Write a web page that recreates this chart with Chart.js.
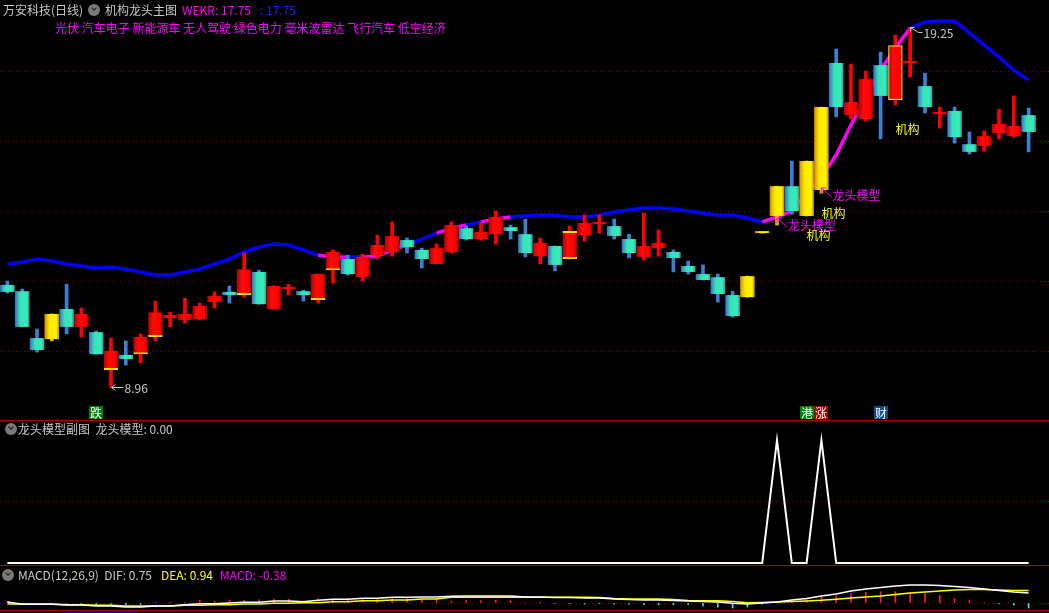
<!DOCTYPE html>
<html lang="zh">
<head>
  <meta charset="UTF-8" />
  <title>万安科技(日线) 机构龙头主图</title>
  <script src="https://cdn.jsdelivr.net/npm/chart.js"></script>
  <style>
    body {
      margin: 0;
      width: 1049px;
      height: 613px;
      overflow: hidden;
      position: relative;
      background: #000;
      color: #c8c8c8;
      font-family: "Noto Sans CJK SC", "Noto Sans", sans-serif;
      font-size: 12px;
    }
    .pane { position: absolute; left: 0; }
    .pane canvas { display: block; }
    .txt { position: absolute; white-space: nowrap; line-height: 14px; z-index: 2; }
    .sep { position: absolute; left: 0; width: 1049px; height: 1px; background: #b00000; z-index: 2; }
    .knob {
      position: absolute; width: 12px; height: 12px; border-radius: 50%;
      background: #7a7a7a; z-index: 2;
    }
    .knob::after {
      content: ""; position: absolute; left: 3.5px; top: 2px; width: 3px; height: 3px;
      border-right: 1.5px solid #1a1a1a; border-bottom: 1.5px solid #1a1a1a;
      transform: rotate(45deg);
    }
  </style>
</head>
<body>

<!-- headers -->
<div class="txt" style="left:3px; top:3px;">万安科技(日线)</div>
<div class="knob" style="left:88px; top:4px;"></div>
<div class="txt" style="left:105px; top:3px;">机构龙头主图</div>
<div class="txt" style="left:182px; top:3px; color:#ff00ff;">WEKR: 17.75</div>
<div class="txt" style="left:260px; top:3px; color:#2222ff;">: 17.75</div>
<div class="txt" style="left:55px; top:21px; color:#ff00ff;">光伏 汽车电子 新能源车 无人驾驶 绿色电力 毫米波雷达 飞行汽车 低空经济</div>

<div class="knob" style="left:5px; top:423px;"></div>
<div class="txt" style="left:18px; top:422px;">龙头模型副图 &nbsp;龙头模型: 0.00</div>

<div class="knob" style="left:2px; top:569px;"></div>
<div class="txt" style="left:18px; top:568px;">MACD(12,26,9) &nbsp;DIF: 0.75</div>
<div class="txt" style="left:161px; top:568px; color:#ffff00;">DEA: 0.94</div>
<div class="txt" style="left:220px; top:568px; color:#ff00ff;">MACD: -0.38</div>

<div class="pane" style="top:0;"><canvas id="mainChart" width="1049" height="420"></canvas></div>
<div class="pane" style="top:420px;"><canvas id="subChart" width="1049" height="146"></canvas></div>
<div class="pane" style="top:566px;"><canvas id="macdChart" width="1049" height="44"></canvas></div>

<div class="sep" style="top:420px;"></div>
<div class="sep" style="top:565px;"></div>
<div class="sep" style="top:610px;"></div>
<div style="position:absolute; left:61px; top:611px; width:77px; height:2px; background:#0000b0;"></div>

<script>
// ---- daily K-line data (70 sessions) ----
const opens = [
  11.89, 11.71, 10.37, 10.34, 11.20, 10.69, 10.54, 9.46, 9.89, 9.91,
  10.40, 10.94, 10.89, 10.91, 11.40, 11.69, 11.60, 12.26, 11.20, 11.77,
  11.71, 11.46, 12.31, 12.63, 12.11, 12.74, 12.83, 13.17, 12.89, 12.49,
  12.83, 13.51, 13.20, 13.34, 13.54, 13.34, 12.71, 13.00, 12.63, 13.31,
  13.63, 13.57, 13.20, 12.69, 12.94, 12.83, 12.43, 12.20, 12.11, 11.60,
  11.54, 13.37, 13.86, 14.71, 13.86, 14.60, 18.23, 16.74, 16.63, 18.17,
  17.17, 18.23, 17.57, 16.77, 16.86, 15.91, 15.86, 16.23, 16.14, 16.74
];
const highs = [
  12.00, 11.77, 10.63, 11.06, 11.91, 11.23, 10.57, 10.37, 10.29, 10.49,
  11.43, 11.11, 11.51, 11.37, 11.69, 11.86, 12.80, 12.31, 11.86, 11.91,
  11.74, 12.20, 12.89, 12.74, 12.77, 13.31, 13.69, 13.23, 12.94, 13.06,
  13.69, 13.57, 13.66, 14.00, 13.60, 13.77, 13.23, 13.00, 13.57, 13.89,
  13.89, 13.77, 13.34, 13.94, 13.46, 12.89, 12.57, 12.46, 12.20, 11.71,
  12.14, 13.37, 14.71, 15.43, 15.43, 16.97, 18.63, 18.20, 18.00, 18.54,
  19.03, 19.25, 17.94, 16.97, 16.97, 16.26, 16.29, 16.91, 17.29, 16.94
];
const lows = [
  11.66, 10.69, 9.97, 10.29, 10.49, 10.40, 9.91, 8.96, 9.60, 9.66,
  10.29, 10.69, 10.80, 10.89, 11.23, 11.37, 11.54, 11.34, 11.20, 11.60,
  11.43, 11.37, 11.94, 12.17, 12.00, 12.63, 12.71, 12.80, 12.37, 12.49,
  12.80, 13.17, 13.17, 13.06, 13.20, 12.69, 12.49, 12.29, 12.63, 13.14,
  13.37, 13.20, 12.66, 12.60, 12.71, 12.26, 12.20, 12.03, 11.40, 10.97,
  11.54, 13.37, 13.60, 13.91, 13.86, 14.51, 16.69, 16.63, 16.57, 16.06,
  17.03, 17.83, 16.80, 16.37, 15.94, 15.63, 15.71, 16.06, 16.11, 15.69
];
const closes = [
  11.69, 10.69, 10.03, 11.06, 10.69, 11.06, 9.91, 10.00, 9.77, 10.40,
  11.11, 11.03, 11.06, 11.29, 11.57, 11.60, 12.34, 11.34, 11.86, 11.83,
  11.60, 12.20, 12.83, 12.20, 12.69, 13.03, 13.29, 12.97, 12.63, 12.94,
  13.60, 13.20, 13.40, 13.83, 13.43, 12.80, 13.09, 12.46, 13.43, 13.66,
  13.69, 13.29, 12.80, 13.00, 13.09, 12.66, 12.26, 12.03, 11.63, 11.00,
  12.14, 13.37, 14.71, 14.00, 15.43, 16.97, 16.97, 17.11, 17.77, 17.29,
  18.74, 18.26, 16.97, 16.83, 16.11, 15.69, 16.14, 16.49, 16.43, 16.26
];
// WEKR trend line
const wekr = [
  12.49, 12.54, 12.63, 12.57, 12.49, 12.43, 12.37, 12.40, 12.34, 12.26,
  12.17, 12.17, 12.26, 12.34, 12.49, 12.63, 12.83, 12.97, 13.06, 13.03,
  12.89, 12.74, 12.69, 12.69, 12.69, 12.71, 12.89, 13.03, 13.20, 13.37,
  13.51, 13.60, 13.69, 13.77, 13.83, 13.86, 13.89, 13.89, 13.83, 13.83,
  13.89, 13.97, 14.03, 14.09, 14.09, 14.06, 14.00, 13.94, 13.89, 13.89,
  13.80, 13.69, 13.83, 14.00, 14.51, 14.97, 15.60, 16.46, 17.26, 18.03,
  18.66, 19.23, 19.40, 19.43, 19.43, 19.09, 18.74, 18.40, 18.03, 17.74
];
// 龙头模型 signal (sub pane)
const dragonSignal = [
  0, 0, 0, 0, 0, 0, 0, 0, 0, 0,
  0, 0, 0, 0, 0, 0, 0, 0, 0, 0,
  0, 0, 0, 0, 0, 0, 0, 0, 0, 0,
  0, 0, 0, 0, 0, 0, 0, 0, 0, 0,
  0, 0, 0, 0, 0, 0, 0, 0, 0, 0,
  0, 0, 1, 0, 0, 1, 0, 0, 0, 0,
  0, 0, 0, 0, 0, 0, 0, 0, 0, 0
];
// MACD(12,26,9)
const dif = [
  0.08, -0.10, -0.10, -0.10, -0.15, -0.15, -0.23, -0.23, -0.30, -0.30,
  -0.23, -0.23, -0.13, -0.05, -0.05, 0.00, 0.05, 0.05, 0.15, 0.15,
  0.10, 0.20, 0.28, 0.28, 0.35, 0.35, 0.43, 0.43, 0.45, 0.45,
  0.50, 0.53, 0.53, 0.53, 0.53, 0.45, 0.45, 0.41, 0.41, 0.38,
  0.38, 0.30, 0.26, 0.23, 0.23, 0.19, 0.15, 0.11, 0.08, -0.02,
  -0.08, 0.00, 0.08, 0.23, 0.34, 0.53, 0.68, 0.90, 1.05, 1.17,
  1.28, 1.35, 1.35, 1.32, 1.24, 1.17, 1.05, 0.94, 0.83, 0.75
];
const dea = [
  -0.08, -0.08, -0.08, -0.08, -0.13, -0.13, -0.17, -0.17, -0.23, -0.23,
  -0.23, -0.23, -0.17, -0.17, -0.13, -0.13, -0.08, -0.08, -0.02, -0.02,
  0.02, 0.02, 0.10, 0.10, 0.17, 0.17, 0.23, 0.23, 0.30, 0.30,
  0.43, 0.43, 0.43, 0.43, 0.43, 0.43, 0.43, 0.43, 0.43, 0.43,
  0.41, 0.34, 0.30, 0.30, 0.30, 0.26, 0.19, 0.17, 0.17, 0.11,
  0.02, 0.04, 0.08, 0.11, 0.15, 0.20, 0.28, 0.38, 0.45, 0.53,
  0.64, 0.75, 0.83, 0.90, 0.98, 1.02, 1.02, 0.98, 0.94, 0.94
];
const macdHist = [
  0.12, -0.03, -0.03, -0.03, -0.04, -0.03, -0.10, -0.08, -0.12, -0.10,
  0.02, 0.01, 0.06, 0.20, 0.14, 0.22, 0.20, 0.24, 0.30, 0.28,
  0.16, 0.30, 0.32, 0.30, 0.34, 0.32, 0.36, 0.34, 0.30, 0.28,
  0.14, 0.20, 0.18, 0.20, 0.18, 0.04, 0.06, -0.04, -0.03, -0.08,
  -0.06, -0.08, -0.08, -0.12, -0.14, -0.14, -0.12, -0.22, -0.30, -0.38,
  -0.30, -0.08, 0.02, 0.16, 0.26, 0.44, 0.54, 0.70, 0.80, 0.85,
  0.85, 0.80, 0.70, 0.56, 0.35, 0.20, 0.04, -0.06, -0.15, -0.38
];
const dayIdx = closes.map((_, i) => i);

// style lists
const hotSegments = [21, 22, 24, 25, 26, 29, 30, 32, 33, 51, 52, 53, 54, 55, 56, 57, 58, 59, 60];
const bottomEdge = [7, 9, 10, 16, 21, 22];
const twoEdge = [38];
const fullEdge = [60];

// annotations
const priceMarks = [
  { idx: 7, price: 8.96, text: '8.96', dir: 'left' },
  { idx: 61, price: 19.25, text: '19.25', dir: 'up' }
];
const dragonTags = [ { idx: 52, price: 13.80 }, { idx: 55, price: 14.66 } ];
const jigouTags = [ { idx: 54, price: 13.31 }, { idx: 55, price: 13.94 }, { idx: 60, price: 16.34 } ];
const eventTags = [
  { idx: 6, text: '跌', bg: '#008000' },
  { idx: 54, text: '港', bg: '#008000' },
  { idx: 55, text: '涨', bg: '#a00000' },
  { idx: 59, text: '财', bg: '#0b4a8c' }
];

const palette = {
  up:    { stops: ['#b00000', '#ff0a0a', '#ff0000', '#a00000'], wick: '#ff0000' },
  down:  { stops: ['#3a68c8', '#36e2b6', '#38ecb8', '#2c9aa8'], wick: '#3c7fd6' },
  limit: { stops: ['#d48a00', '#ffea00', '#fff200', '#c48c00'], wick: '#e6b400' }
};

function kindOf(i) {
  const prev = i > 0 ? closes[i - 1] : opens[i];
  if (closes[i] >= prev * 1.095) return 'limit';
  return closes[i] >= opens[i] ? 'up' : 'down';
}

function bodyFill(c) {
  if (c.type !== 'data') return '#000';
  const k = palette[kindOf(c.dataIndex)];
  const xs = c.chart.scales.x;
  const cx = xs.getPixelForValue(c.dataIndex);
  const slot = xs.getPixelForValue(1) - xs.getPixelForValue(0);
  if (!isFinite(cx) || !isFinite(slot)) return k.stops[1];
  const g = c.chart.ctx.createLinearGradient(cx - slot / 2, 0, cx + slot / 2, 0);
  [0, 0.35, 0.8, 1].forEach((s, j) => g.addColorStop(s, k.stops[j]));
  return g;
}

function edgeWidth(c) {
  const i = c.dataIndex;
  if (fullEdge.includes(i)) return 1.5;
  if (twoEdge.includes(i)) return { top: 2, right: 0, bottom: 2, left: 0 };
  if (bottomEdge.includes(i)) return { top: 0, right: 0, bottom: 2, left: 0 };
  return 0;
}

// 14.8 px per session, first session centred at 7.4 px
function xAxis() {
  return { type: 'linear', display: false, offset: false, min: -0.5, max: -0.5 + 1049 / 14.8 };
}

function dottedY(min, max, lines) {
  return {
    min: min, max: max,
    ticks: { display: false },
    grid: { color: '#8c0000', drawTicks: false, lineWidth: 1 },
    border: { display: false, dash: [1, 3] },
    afterBuildTicks: s => { s.ticks = lines.map(v => ({ value: v })); }
  };
}

const baseOpts = {
  responsive: false,
  animation: false,
  events: [],
  layout: { padding: 0 },
  plugins: { legend: { display: false }, tooltip: { enabled: false } }
};

// annotation plugin for the price pane
const markPlugin = {
  id: 'marks',
  afterDatasetsDraw(chart) {
    const { ctx, scales: { x, y }, chartArea } = chart;
    ctx.save();
    ctx.font = '12px "Noto Sans CJK SC", "Noto Sans", sans-serif';
    ctx.textBaseline = 'middle';
    ctx.lineWidth = 1;

    priceMarks.forEach(m => {
      const px = Math.round(x.getPixelForValue(m.idx)) + 0.5;
      const py = Math.round(y.getPixelForValue(m.price)) + 0.5;
      ctx.strokeStyle = '#c8c8c8';
      ctx.fillStyle = '#c8c8c8';
      ctx.beginPath();
      if (m.dir === 'left') {
        ctx.moveTo(px, py); ctx.lineTo(px + 12, py);
        ctx.moveTo(px, py); ctx.lineTo(px + 4, py - 3);
        ctx.moveTo(px, py); ctx.lineTo(px + 4, py + 3);
        ctx.stroke();
        ctx.fillText(m.text, px + 13, py + 1);
      } else {
        ctx.moveTo(px, py); ctx.lineTo(px + 8, py + 5); ctx.lineTo(px + 12, py + 5);
        ctx.moveTo(px, py); ctx.lineTo(px + 4, py);
        ctx.moveTo(px, py); ctx.lineTo(px, py + 4);
        ctx.stroke();
        ctx.fillText(m.text, px + 13, py + 6);
      }
    });

    dragonTags.forEach(m => {
      const px = x.getPixelForValue(m.idx);
      const py = y.getPixelForValue(m.price);
      ctx.strokeStyle = '#ff00ff';
      ctx.fillStyle = '#ff00ff';
      ctx.beginPath();
      ctx.moveTo(px, py); ctx.lineTo(px + 10, py + 9);
      ctx.moveTo(px, py); ctx.lineTo(px + 5, py);
      ctx.moveTo(px, py); ctx.lineTo(px, py + 5);
      ctx.stroke();
      ctx.fillText('龙头模型', px + 11, py + 7);
    });

    ctx.fillStyle = '#ffff00';
    jigouTags.forEach(m => {
      ctx.fillText('机构', x.getPixelForValue(m.idx), y.getPixelForValue(m.price));
    });

    ctx.textAlign = 'center';
    eventTags.forEach(t => {
      const px = Math.round(x.getPixelForValue(t.idx));
      const top = chartArea.bottom - 14;
      ctx.fillStyle = t.bg;
      ctx.fillRect(px - 7, top, 14, 13);
      ctx.fillStyle = '#ffffff';
      ctx.fillText(t.text, px, top + 7);
    });
    ctx.restore();
  }
};

new Chart(document.getElementById('mainChart').getContext('2d'), {
  type: 'bar',
  data: {
    labels: dayIdx,
    datasets: [
      {
        type: 'line',
        label: 'WEKR',
        data: wekr,
        borderColor: '#0000ff',
        borderWidth: 3.5,
        pointRadius: 0,
        tension: 0,
        order: 3,
        segment: { borderColor: s => hotSegments.includes(s.p0DataIndex) ? '#ff00ff' : '#0000ff' }
      },
      {
        label: 'wick',
        data: lows.map((l, i) => [l, highs[i]]),
        backgroundColor: c => palette[kindOf(c.dataIndex)].wick,
        barThickness: 3,
        minBarLength: 1,
        grouped: false,
        order: 2
      },
      {
        label: 'body',
        data: opens.map((o, i) => [o, closes[i]]),
        backgroundColor: bodyFill,
        borderColor: '#ffd800',
        borderWidth: edgeWidth,
        borderSkipped: false,
        categoryPercentage: 1,
        barPercentage: 0.98,
        minBarLength: 2,
        grouped: false,
        order: 1
      }
    ]
  },
  options: Object.assign({}, baseOpts, {
    scales: { x: xAxis(), y: dottedY(8.03, 20.03, [10, 12, 14, 16, 18]) }
  }),
  plugins: [markPlugin]
});

new Chart(document.getElementById('subChart').getContext('2d'), {
  type: 'line',
  data: {
    labels: dayIdx,
    datasets: [{
      label: '龙头模型',
      data: dragonSignal,
      borderColor: '#ffffff',
      borderWidth: 2,
      pointRadius: 0,
      tension: 0
    }]
  },
  options: Object.assign({}, baseOpts, {
    scales: { x: xAxis(), y: dottedY(-0.0244, 1.1626, [0.5]) }
  })
});

new Chart(document.getElementById('macdChart').getContext('2d'), {
  type: 'bar',
  data: {
    labels: dayIdx,
    datasets: [
      {
        type: 'line', label: 'DIF', data: dif,
        borderColor: '#ffffff', borderWidth: 1.5, pointRadius: 0, tension: 0, order: 1
      },
      {
        type: 'line', label: 'DEA', data: dea,
        borderColor: '#ffff00', borderWidth: 1.5, pointRadius: 0, tension: 0, order: 2
      },
      {
        label: 'MACD', data: macdHist,
        backgroundColor: c => (c.raw >= 0 ? '#ff2020' : '#40e8e8'),
        barThickness: 1, grouped: false, order: 3
      }
    ]
  },
  options: Object.assign({}, baseOpts, {
    scales: { x: xAxis(), y: dottedY(-0.526, 2.782, [0]) }
  })
});
</script>

</body>
</html>
